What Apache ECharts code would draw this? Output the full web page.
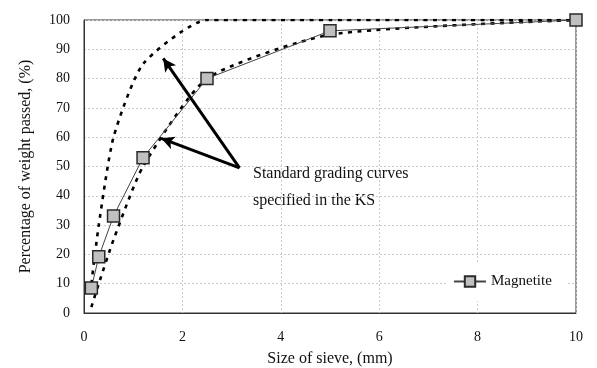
<!DOCTYPE html>
<html>
<head>
<meta charset="utf-8">
<script src="https://cdn.jsdelivr.net/npm/echarts@6/dist/echarts.min.js"></script>
<style>
  html, body { margin: 0; padding: 0; background: #fff; }
  #chart { width: 597px; height: 368px; }
</style>
</head>
<body>
<div id="chart"></div>
<script>
// Sieve sizes (mm) and percentage passed
const sieveSizes = [0.15, 0.3, 0.6, 1.2, 2.5, 5, 10];
const magnetite = [8.5, 19.2, 33.1, 53, 80, 96.3, 100];
// KS standard grading limits for fine aggregate
const upperLimit = [10, 30, 60, 85, 100, 100, 100];
const lowerLimit = [2, 10, 25, 50, 80, 95, 100];
// Annotation arrows: shared tail and two heads, in data units
const arrowTail = [3.16, 49.5];
const arrowHeads = [[1.61, 86.9], [1.57, 59.6]];
const annotationText = 'Standard grading curves\nspecified in the KS';
const xTicks = [0, 10, 2];
const yTicks = [0, 100, 10];

const pairs = (xs, ys) => xs.map((x, i) => [x, ys[i]]);
const FONT = 'Liberation Serif';

const chart = echarts.init(document.getElementById('chart'));
const dotted = {
  color: '#000', width: 2.6, type: [4, 5.5]
};
const grid = { color: '#cccccc', type: [2, 2], width: 1 };

chart.setOption({
  animation: false,
  textStyle: { fontFamily: FONT },
  grid: {
    left: 84, right: 21, top: 20, bottom: 55,
    show: true, borderColor: '#333', borderWidth: 1, backgroundColor: 'transparent',
    outerBoundsMode: 'none', containLabel: false
  },
  xAxis: {
    type: 'value', min: xTicks[0], max: xTicks[1], interval: xTicks[2],
    name: 'Size of sieve, (mm)', nameLocation: 'middle', nameGap: 38,
    nameTextStyle: { fontFamily: FONT, fontSize: 16, color: '#111' },
    axisLine: { show: true, onZero: false, lineStyle: { color: '#333', width: 1 } },
    axisTick: { show: false },
    axisLabel: { fontFamily: FONT, fontSize: 14, color: '#111', margin: 17 },
    splitLine: { show: true, lineStyle: grid }
  },
  yAxis: {
    type: 'value', min: yTicks[0], max: yTicks[1], interval: yTicks[2],
    name: 'Percentage of weight passed, (%)', nameLocation: 'middle', nameGap: 50,
    nameTextStyle: { fontFamily: FONT, fontSize: 16, color: '#111' },
    axisLine: { show: true, lineStyle: { color: '#333', width: 1 } },
    axisTick: { show: false },
    axisLabel: { fontFamily: FONT, fontSize: 14, color: '#111', margin: 14 },
    splitLine: { show: true, lineStyle: grid }
  },
  legend: {
    data: ['Magnetite'],
    left: 446, top: 262,
    padding: [12, 14, 12, 7],
    backgroundColor: '#fff',
    itemWidth: 32, itemHeight: 13, itemGap: 5,
    textStyle: { fontFamily: FONT, fontSize: 15, color: '#111' }
  },
  graphic: [
    { type: 'text', left: 253, top: 160,
      style: { text: annotationText, font: '16px "Liberation Serif"', fill: '#111', lineHeight: 27 } }
  ],
  series: [
    {
      name: 'Upper limit', type: 'line', data: pairs(sieveSizes, upperLimit),
      smooth: 0.2,
      symbol: 'none', lineStyle: dotted, z: 2
    },
    {
      name: 'Lower limit', type: 'line', data: pairs(sieveSizes, lowerLimit),
      smooth: 0.2,
      symbol: 'none', lineStyle: dotted, z: 2
    },
    {
      name: 'Magnetite', type: 'line', data: pairs(sieveSizes, magnetite),
      symbol: 'rect', symbolSize: 12,
      itemStyle: { color: '#c0c0c0', borderColor: '#2a2a2a', borderWidth: 1.5 },
      lineStyle: { color: '#444', width: 1 }, z: 3
    },
    {
      name: 'Annotation', type: 'line', data: [], z: 4,
      markLine: {
        silent: true, animation: false,
        symbol: ['none', 'arrow'], symbolSize: [10, 13],
        label: { show: false },
        lineStyle: { color: '#000', width: 3, type: 'solid' },
        data: arrowHeads.map(h => [{ coord: arrowTail }, { coord: h }])
      }
    }
  ]
});
</script>
</body>
</html>
